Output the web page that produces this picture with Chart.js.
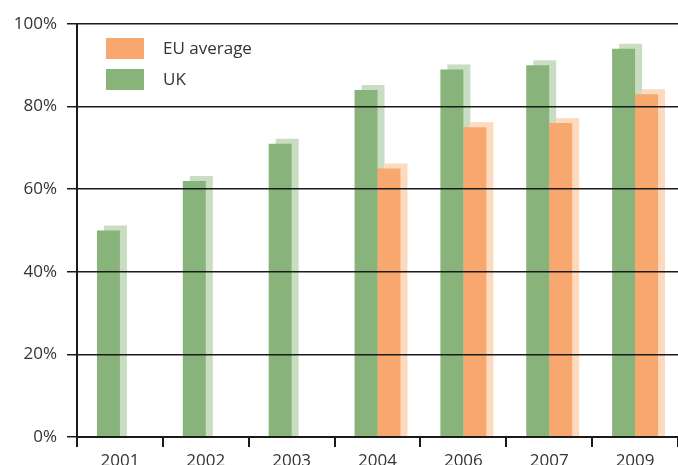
<!DOCTYPE html>
<html>
<head>
<meta charset="utf-8">
<script src="https://cdn.jsdelivr.net/npm/chart.js@4"></script>
<style>
html,body{margin:0;padding:0;background:#fff;}
#wrap{width:678px;height:465px;}
</style>
</head>
<body>
<div id="wrap"><canvas id="c" width="678" height="465"></canvas></div>
<script>
const categories = ['2001', '2002', '2003', '2004', '2006', '2007', '2009'];
const ukValues = [50, 62, 71, 84, 89, 90, 94];
const euValues = [null, null, null, 65, 75, 76, 83];
const yTickValues = [0, 20, 40, 60, 80, 100];
const legendOrder = ['EU average', 'UK'];

const FONT = '"Open Sans", "Noto Sans", sans-serif';

const shadowPlugin = {
  id: 'barShadow',
  beforeDatasetsDraw(chart) {
    const ctx = chart.ctx;
    const area = chart.chartArea;
    ctx.save();
    ctx.beginPath();
    ctx.rect(area.left, 0, area.right - area.left + 20, area.bottom);
    ctx.clip();
    chart.data.datasets.forEach((ds, i) => {
      const meta = chart.getDatasetMeta(i);
      meta.data.forEach((bar, j) => {
        if (ds.data[j] == null) return;
        const p = bar.getProps(['x', 'y', 'base', 'width'], true);
        ctx.fillStyle = ds.shadowColor;
        ctx.fillRect(p.x - p.width / 2 + 7, p.y - 5, p.width, p.base - p.y + 5);
      });
    });
    ctx.restore();
  }
};

const legendPlugin = {
  id: 'customLegend',
  afterDraw(chart) {
    const ctx = chart.ctx;
    ctx.save();
    ctx.font = '17px ' + FONT;
    ctx.textBaseline = 'middle';
    ctx.textAlign = 'left';
    legendOrder.forEach((label, k) => {
      const ds = chart.data.datasets.find(d => d.label === label);
      const top = 38 + k * 31;
      ctx.fillStyle = ds.backgroundColor;
      ctx.fillRect(106, top, 38, 21);
      ctx.fillStyle = '#333';
      ctx.fillText(label, 163, top + 11);
    });
    ctx.restore();
  }
};

new Chart(document.getElementById('c'), {
  type: 'bar',
  data: {
    labels: categories,
    datasets: [
      { label: 'UK', data: ukValues, backgroundColor: '#88b47c', shadowColor: '#c8ddc2', borderWidth: 0 },
      { label: 'EU average', data: euValues, backgroundColor: '#f8a86e', shadowColor: '#fdd9be', borderWidth: 0 }
    ]
  },
  options: {
    responsive: false,
    animation: false,
    events: [],
    layout: { padding: { top: 24, right: 0, left: 0, bottom: 0 } },
    datasets: { bar: { barPercentage: 1, categoryPercentage: 0.535 } },
    plugins: { legend: { display: false }, tooltip: { enabled: false } },
    scales: {
      x: {
        grid: { display: true, drawOnChartArea: false, drawTicks: true, tickLength: 10, color: '#1a1a1a', lineWidth: 2, offset: true },
        border: { display: true, color: '#1a1a1a', width: 2 },
        ticks: { color: '#333', font: { family: FONT, size: 17 }, padding: 4 },
        afterFit(s) { s.height = 28; }
      },
      y: {
        min: 0, max: 100,
        afterBuildTicks(s) { s.ticks = yTickValues.map(v => ({ value: v })); },
        grid: { color: '#1a1a1a', lineWidth: 1.5, tickLength: 10, z: 1 },
        border: { display: true, color: '#1a1a1a', width: 2, z: 1 },
        ticks: { color: '#333', font: { family: FONT, size: 17 }, padding: 10, callback: v => v + '%' },
        afterFit(s) { s.width = 77; }
      }
    }
  },
  plugins: [shadowPlugin, legendPlugin]
});
</script>
</body>
</html>
